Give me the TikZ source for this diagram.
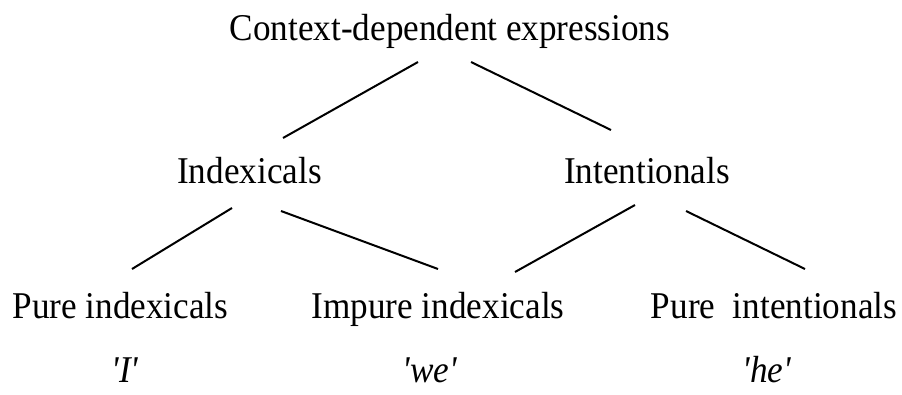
\documentclass[tikz,border=0pt]{standalone}
\usepackage{fontspec}
\setmainfont[FakeStretch=0.93]{Liberation Serif}
\usetikzlibrary{calc}
\begin{document}
\begin{tikzpicture}[x=1pt,y=-1pt,
  lbl/.style={anchor=base,inner sep=0pt,font=\fontsize{37.8}{40}\selectfont},
  ex/.style={lbl,font=\fontsize{37.8}{40}\selectfont\itshape},
  edge/.style={line width=2pt}]
\useasboundingbox[fill=white] (0,0) rectangle (902,394);
\node[lbl] (cde) at (450,40) {Context-dependent expressions};
\node[lbl] (ind) at (249.5,183) {Indexicals};
\node[lbl] (int) at (647,183) {Intentionals};
\node[lbl] (pind) at (120.5,318) {Pure indexicals};
\node[lbl] (iind) at (438,318) {Impure indexicals};
\node[lbl] (pint) at (774,318) {Pure\ \ intentionals};
\node[ex] (exI) at (125,382) {\textquotesingle I\textquotesingle};
\node[ex] (exwe) at (430,382) {\textquotesingle we\textquotesingle};
\node[ex] (exhe) at (767,382) {\textquotesingle he\textquotesingle};
\draw[edge] ($(cde.base)+(-32,22)$) -- ($(ind.base)+(33.5,-45)$);
\draw[edge] ($(cde.base)+(21,22)$) -- ($(int.base)+(-36,-53)$);
\draw[edge] ($(ind.base)+(-17.5,25)$) -- ($(pind.base)+(11.5,-49)$);
\draw[edge] ($(ind.base)+(31.5,28)$) -- ($(iind.base)+(0,-49)$);
\draw[edge] ($(int.base)+(-12,22)$) -- ($(iind.base)+(77,-46)$);
\draw[edge] ($(int.base)+(39,28)$) -- ($(pint.base)+(31,-49)$);
\end{tikzpicture}
\end{document}
